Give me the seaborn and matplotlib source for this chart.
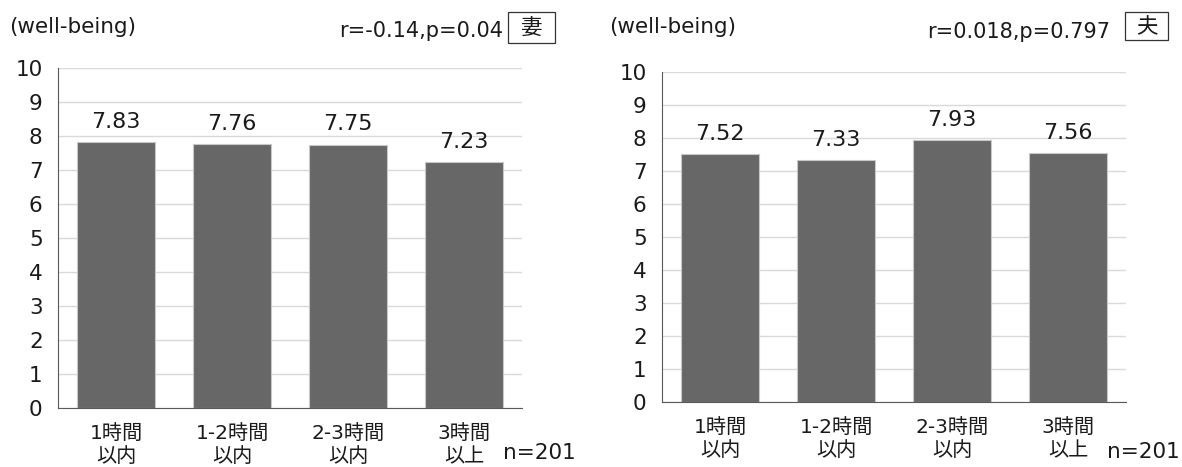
import pandas as pd
import matplotlib.pyplot as plt
import seaborn as sns
from matplotlib.patches import Rectangle

sns.set_style('white')
plt.rcParams['font.family'] = ['DejaVu Sans', 'Noto Sans CJK JP']

# data
categories = ['1時間\n以内', '1-2時間\n以内', '2-3時間\n以内', '3時間\n以上']
wife_values = [7.83, 7.76, 7.75, 7.23]
husband_values = [7.52, 7.33, 7.93, 7.56]
wife_stat = 'r=-0.14,p=0.04'
husband_stat = 'r=0.018,p=0.797'
title = '(well-being)'
n_label = 'n=201'

BAR = '#676767'
GRID = '#d9d9d9'
AXIS = '#595959'
TXT = '#1a1a1a'

fig = plt.figure(figsize=(11.82, 4.67), dpi=100)
W, H = 1182, 467


def px(x, y):
    return x / W, 1 - y / H


def draw_panel(x0, x1, ytop, ybot, values):
    ax = fig.add_axes([x0 / W, 1 - ybot / H, (x1 - x0) / W, (ybot - ytop) / H])
    df = pd.DataFrame({'cat': categories, 'val': values})
    sns.barplot(data=df, x='cat', y='val', ax=ax, color=BAR, width=0.67,
                edgecolor='#c8c8c8', linewidth=0.8, saturation=1)
    ax.set_ylim(0, 10)
    ax.set_xlim(-0.5, len(categories) - 0.5)
    ax.set_yticks(range(0, 11))
    ax.yaxis.grid(True, color=GRID, linewidth=1)
    ax.set_axisbelow(True)
    for s in ['top', 'right']:
        ax.spines[s].set_visible(False)
    ax.spines['left'].set_color(AXIS)
    ax.spines['bottom'].set_color(AXIS)
    ax.tick_params(axis='y', length=5, width=0.8, color=AXIS,
                   labelsize=15.5, pad=6, labelcolor=TXT)
    ax.tick_params(axis='x', which='major', length=0, pad=11.5, labelcolor=TXT)
    ax.set_xticks([i - 0.5 for i in range(len(categories) + 1)], minor=True)
    ax.tick_params(axis='x', which='minor', length=5, width=0.8, color=AXIS)
    ax.set_xlabel('')
    ax.set_ylabel('')
    for label in ax.get_xticklabels():
        label.set_fontsize(14.5)
        label.set_linespacing(1.3)
    # value labels above bars
    for i, v in enumerate(values):
        ax.text(i, v + 0.3, f'{v:.2f}', ha='center', va='bottom',
                fontsize=16, color=TXT)
    return ax


draw_panel(58, 522, 68, 408, wife_values)
draw_panel(662, 1126, 72, 402, husband_values)

# titles and annotations
fig.text(*px(9, 27), title, fontsize=15.5, ha='left', va='center', color=TXT)
fig.text(*px(609, 27), title, fontsize=15.5, ha='left', va='center', color=TXT)
fig.text(*px(503, 31), wife_stat, fontsize=15, ha='right', va='center', color=TXT)
fig.text(*px(1110, 32), husband_stat, fontsize=15, ha='right', va='center', color=TXT)

for (bx0, bx1, by0, by1, ch) in [(508, 555, 12, 43, '妻'), (1125, 1168, 12, 40, '夫')]:
    fig.add_artist(Rectangle((bx0 / W, 1 - by1 / H), (bx1 - bx0) / W, (by1 - by0) / H,
                             transform=fig.transFigure, fill=False,
                             edgecolor='#333333', linewidth=0.9))
    fig.text(*px((bx0 + bx1) / 2, (by0 + by1) / 2 + 1), ch, fontsize=15.5,
             ha='center', va='center', color=TXT, family='Noto Sans CJK JP')

fig.text(*px(576, 453), n_label, fontsize=15.5, ha='right', va='center', color=TXT)
fig.text(*px(1180, 452), n_label, fontsize=15.5, ha='right', va='center', color=TXT)

fig.savefig('out.png', dpi=100, facecolor='white')
